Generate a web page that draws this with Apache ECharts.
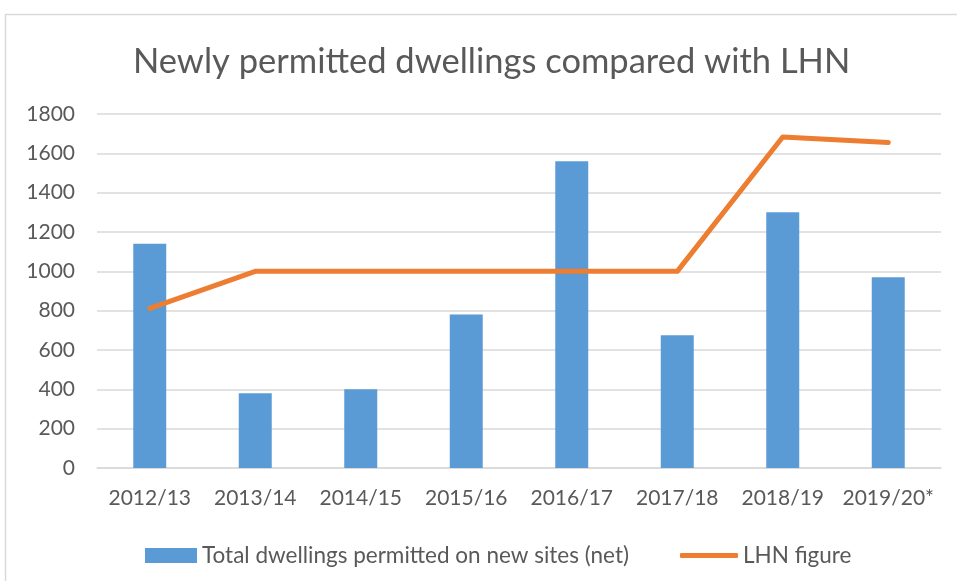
<!DOCTYPE html>
<html>
<head>
<meta charset="utf-8">
<script src="https://cdn.jsdelivr.net/npm/echarts@6/dist/echarts.min.js"></script>
<style>
html,body{margin:0;padding:0;background:#fff;}
#main{width:957px;height:581px;}
</style>
</head>
<body>
<div id="main"></div>
<script>
const categories = ['2012/13','2013/14','2014/15','2015/16','2016/17','2017/18','2018/19','2019/20*'];
const permitted = [1140, 380, 400, 780, 1560, 675, 1300, 970];
const lhn = [812, 1000, 1000, 1000, 1000, 1000, 1683, 1655];
const barName = 'Total dwellings permitted on new sites (net)';
const lineName = 'LHN figure';

const txt = '#595959';
const font = 'Lato';
const chart = echarts.init(document.getElementById('main'));
chart.setOption({
  animation: false,
  backgroundColor: '#fff',
  title: {
    text: 'Newly permitted dwellings compared with LHN',
    left: 128,
    top: 39,
    textStyle: {color: txt, fontSize: 34.5, fontWeight: 'normal', fontFamily: font}
  },
  graphic: [{
    type: 'rect', shape: {x: 5.5, y: 14.5, width: 980, height: 600},
    style: {fill: 'none', stroke: '#D9D9D9', lineWidth: 1.5}, silent: true, z: -1
  }],
  legend: [{
    data: [barName], left: 140, top: 539,
    itemWidth: 52, itemHeight: 15, icon: 'rect',
    textStyle: {color: txt, fontSize: 22.5, fontFamily: font}
  },{
    data: [lineName], left: 675, top: 539,
    itemWidth: 58, itemHeight: 5, icon: 'roundRect',
    textStyle: {color: txt, fontSize: 22.5, fontFamily: font}
  }],
  grid: {left: 97, right: 16, top: 114, bottom: 113, containLabel: false},
  xAxis: {
    type: 'category', data: categories,
    axisLine: {lineStyle: {color: '#D9D9D9', width: 1.5}},
    axisTick: {show: false},
    axisLabel: {color: txt, fontSize: 21, fontFamily: font, margin: 20, interval: 0}
  },
  yAxis: {
    type: 'value', min: 0, max: 1800, interval: 200,
    axisLine: {show: false}, axisTick: {show: false},
    splitLine: {lineStyle: {color: '#D9D9D9', width: 1.5}},
    axisLabel: {color: txt, fontSize: 21, fontFamily: font, margin: 22,
      formatter: v => String(v)}
  },
  series: [{
    name: barName, type: 'bar', data: permitted, barWidth: 33,
    itemStyle: {color: '#5B9BD5'}
  },{
    name: lineName, type: 'line', data: lhn, showSymbol: false, symbol: 'none',
    lineStyle: {color: '#ED7D31', width: 5, cap: 'round', join: 'round'},
    itemStyle: {color: '#ED7D31'}
  }]
});
</script>
</body>
</html>
